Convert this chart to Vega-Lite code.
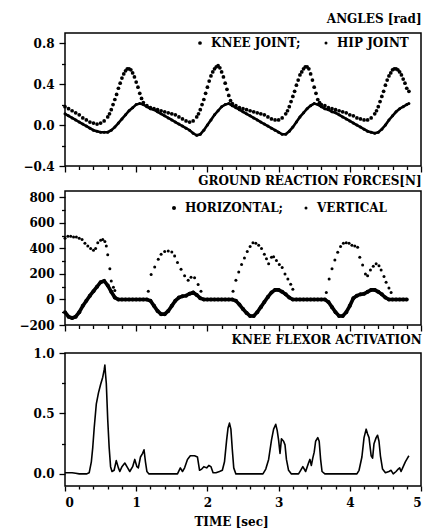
{
  "$schema": "https://vega.github.io/schema/vega-lite/v6.json",
  "padding": {"left": 18, "top": 12, "right": 5, "bottom": 0},
  "spacing": 0,
  "resolve": {"scale": {"size": "independent"}, "legend": {"size": "independent"}},
  "config": {
    "font": "DejaVu Serif",
    "view": {"stroke": "black", "strokeWidth": 1.5},
    "axis": {"grid": false, "domain": false, "tickColor": "black", "tickWidth": 1.3, "labelColor": "black", "labelFont": "DejaVu Serif", "labelFontWeight": "bold", "labelFontSize": 12, "titleFont": "DejaVu Serif", "titleFontWeight": "bold", "titleFontSize": 12, "titleColor": "black"},
    "title": {"font": "DejaVu Serif", "fontWeight": "bold", "fontSize": 12, "color": "black", "anchor": "end"},
    "legend": {"labelFont": "DejaVu Serif", "labelFontWeight": "bold", "labelFontSize": 12, "labelColor": "black"}
  },
  "datasets": {
    "angles": [
      {"t":0.00,"v":0.18,"s":"KNEE JOINT;"},{"t":0.05,"v":0.16,"s":"KNEE JOINT;"},{"t":0.10,"v":0.14,"s":"KNEE JOINT;"},{"t":0.15,"v":0.12,"s":"KNEE JOINT;"},{"t":0.20,"v":0.10,"s":"KNEE JOINT;"},{"t":0.25,"v":0.07,"s":"KNEE JOINT;"},{"t":0.30,"v":0.05,"s":"KNEE JOINT;"},{"t":0.35,"v":0.03,"s":"KNEE JOINT;"},{"t":0.40,"v":0.02,"s":"KNEE JOINT;"},{"t":0.45,"v":0.01,"s":"KNEE JOINT;"},{"t":0.50,"v":0.02,"s":"KNEE JOINT;"},{"t":0.55,"v":0.04,"s":"KNEE JOINT;"},{"t":0.60,"v":0.08,"s":"KNEE JOINT;"},{"t":0.625,"v":0.11,"s":"KNEE JOINT;"},{"t":0.65,"v":0.15,"s":"KNEE JOINT;"},{"t":0.675,"v":0.20,"s":"KNEE JOINT;"},{"t":0.70,"v":0.25,"s":"KNEE JOINT;"},{"t":0.725,"v":0.30,"s":"KNEE JOINT;"},{"t":0.75,"v":0.36,"s":"KNEE JOINT;"},{"t":0.775,"v":0.41,"s":"KNEE JOINT;"},{"t":0.80,"v":0.46,"s":"KNEE JOINT;"},{"t":0.825,"v":0.50,"s":"KNEE JOINT;"},{"t":0.85,"v":0.53,"s":"KNEE JOINT;"},{"t":0.875,"v":0.55,"s":"KNEE JOINT;"},{"t":0.90,"v":0.55,"s":"KNEE JOINT;"},{"t":0.925,"v":0.54,"s":"KNEE JOINT;"},{"t":0.95,"v":0.51,"s":"KNEE JOINT;"},{"t":0.975,"v":0.47,"s":"KNEE JOINT;"},{"t":1.00,"v":0.42,"s":"KNEE JOINT;"},{"t":1.025,"v":0.37,"s":"KNEE JOINT;"},{"t":1.05,"v":0.31,"s":"KNEE JOINT;"},{"t":1.075,"v":0.26,"s":"KNEE JOINT;"},{"t":1.10,"v":0.22,"s":"KNEE JOINT;"},{"t":1.15,"v":0.19,"s":"KNEE JOINT;"},{"t":1.20,"v":0.17,"s":"KNEE JOINT;"},{"t":1.25,"v":0.16,"s":"KNEE JOINT;"},{"t":1.30,"v":0.15,"s":"KNEE JOINT;"},{"t":1.35,"v":0.14,"s":"KNEE JOINT;"},{"t":1.40,"v":0.13,"s":"KNEE JOINT;"},{"t":1.45,"v":0.12,"s":"KNEE JOINT;"},{"t":1.50,"v":0.11,"s":"KNEE JOINT;"},{"t":1.55,"v":0.10,"s":"KNEE JOINT;"},{"t":1.60,"v":0.08,"s":"KNEE JOINT;"},{"t":1.65,"v":0.06,"s":"KNEE JOINT;"},{"t":1.70,"v":0.04,"s":"KNEE JOINT;"},{"t":1.75,"v":0.03,"s":"KNEE JOINT;"},{"t":1.80,"v":0.04,"s":"KNEE JOINT;"},{"t":1.85,"v":0.08,"s":"KNEE JOINT;"},{"t":1.875,"v":0.11,"s":"KNEE JOINT;"},{"t":1.90,"v":0.15,"s":"KNEE JOINT;"},{"t":1.925,"v":0.20,"s":"KNEE JOINT;"},{"t":1.95,"v":0.25,"s":"KNEE JOINT;"},{"t":1.975,"v":0.31,"s":"KNEE JOINT;"},{"t":2.00,"v":0.37,"s":"KNEE JOINT;"},{"t":2.025,"v":0.43,"s":"KNEE JOINT;"},{"t":2.05,"v":0.48,"s":"KNEE JOINT;"},{"t":2.075,"v":0.52,"s":"KNEE JOINT;"},{"t":2.10,"v":0.55,"s":"KNEE JOINT;"},{"t":2.125,"v":0.57,"s":"KNEE JOINT;"},{"t":2.15,"v":0.58,"s":"KNEE JOINT;"},{"t":2.175,"v":0.56,"s":"KNEE JOINT;"},{"t":2.20,"v":0.52,"s":"KNEE JOINT;"},{"t":2.225,"v":0.47,"s":"KNEE JOINT;"},{"t":2.25,"v":0.41,"s":"KNEE JOINT;"},{"t":2.275,"v":0.35,"s":"KNEE JOINT;"},{"t":2.30,"v":0.29,"s":"KNEE JOINT;"},{"t":2.325,"v":0.24,"s":"KNEE JOINT;"},{"t":2.35,"v":0.21,"s":"KNEE JOINT;"},{"t":2.40,"v":0.19,"s":"KNEE JOINT;"},{"t":2.45,"v":0.17,"s":"KNEE JOINT;"},{"t":2.50,"v":0.16,"s":"KNEE JOINT;"},{"t":2.55,"v":0.15,"s":"KNEE JOINT;"},{"t":2.60,"v":0.14,"s":"KNEE JOINT;"},{"t":2.65,"v":0.13,"s":"KNEE JOINT;"},{"t":2.70,"v":0.12,"s":"KNEE JOINT;"},{"t":2.75,"v":0.11,"s":"KNEE JOINT;"},{"t":2.80,"v":0.10,"s":"KNEE JOINT;"},{"t":2.85,"v":0.08,"s":"KNEE JOINT;"},{"t":2.90,"v":0.06,"s":"KNEE JOINT;"},{"t":2.95,"v":0.05,"s":"KNEE JOINT;"},{"t":3.00,"v":0.05,"s":"KNEE JOINT;"},{"t":3.05,"v":0.07,"s":"KNEE JOINT;"},{"t":3.10,"v":0.11,"s":"KNEE JOINT;"},{"t":3.125,"v":0.14,"s":"KNEE JOINT;"},{"t":3.15,"v":0.18,"s":"KNEE JOINT;"},{"t":3.175,"v":0.23,"s":"KNEE JOINT;"},{"t":3.20,"v":0.28,"s":"KNEE JOINT;"},{"t":3.225,"v":0.33,"s":"KNEE JOINT;"},{"t":3.25,"v":0.39,"s":"KNEE JOINT;"},{"t":3.275,"v":0.44,"s":"KNEE JOINT;"},{"t":3.30,"v":0.49,"s":"KNEE JOINT;"},{"t":3.325,"v":0.52,"s":"KNEE JOINT;"},{"t":3.35,"v":0.55,"s":"KNEE JOINT;"},{"t":3.375,"v":0.57,"s":"KNEE JOINT;"},{"t":3.40,"v":0.57,"s":"KNEE JOINT;"},{"t":3.425,"v":0.55,"s":"KNEE JOINT;"},{"t":3.45,"v":0.50,"s":"KNEE JOINT;"},{"t":3.475,"v":0.44,"s":"KNEE JOINT;"},{"t":3.50,"v":0.37,"s":"KNEE JOINT;"},{"t":3.525,"v":0.31,"s":"KNEE JOINT;"},{"t":3.55,"v":0.25,"s":"KNEE JOINT;"},{"t":3.575,"v":0.22,"s":"KNEE JOINT;"},{"t":3.60,"v":0.20,"s":"KNEE JOINT;"},{"t":3.65,"v":0.19,"s":"KNEE JOINT;"},{"t":3.70,"v":0.17,"s":"KNEE JOINT;"},{"t":3.75,"v":0.16,"s":"KNEE JOINT;"},{"t":3.80,"v":0.15,"s":"KNEE JOINT;"},{"t":3.85,"v":0.14,"s":"KNEE JOINT;"},{"t":3.90,"v":0.13,"s":"KNEE JOINT;"},{"t":3.95,"v":0.12,"s":"KNEE JOINT;"},{"t":4.00,"v":0.10,"s":"KNEE JOINT;"},{"t":4.05,"v":0.09,"s":"KNEE JOINT;"},{"t":4.10,"v":0.07,"s":"KNEE JOINT;"},{"t":4.15,"v":0.06,"s":"KNEE JOINT;"},{"t":4.20,"v":0.05,"s":"KNEE JOINT;"},{"t":4.25,"v":0.05,"s":"KNEE JOINT;"},{"t":4.30,"v":0.07,"s":"KNEE JOINT;"},{"t":4.35,"v":0.11,"s":"KNEE JOINT;"},{"t":4.375,"v":0.14,"s":"KNEE JOINT;"},{"t":4.40,"v":0.18,"s":"KNEE JOINT;"},{"t":4.425,"v":0.23,"s":"KNEE JOINT;"},{"t":4.45,"v":0.28,"s":"KNEE JOINT;"},{"t":4.475,"v":0.33,"s":"KNEE JOINT;"},{"t":4.50,"v":0.39,"s":"KNEE JOINT;"},{"t":4.525,"v":0.44,"s":"KNEE JOINT;"},{"t":4.55,"v":0.48,"s":"KNEE JOINT;"},{"t":4.575,"v":0.51,"s":"KNEE JOINT;"},{"t":4.60,"v":0.54,"s":"KNEE JOINT;"},{"t":4.625,"v":0.55,"s":"KNEE JOINT;"},{"t":4.65,"v":0.55,"s":"KNEE JOINT;"},{"t":4.675,"v":0.54,"s":"KNEE JOINT;"},{"t":4.70,"v":0.52,"s":"KNEE JOINT;"},{"t":4.725,"v":0.49,"s":"KNEE JOINT;"},{"t":4.75,"v":0.45,"s":"KNEE JOINT;"},{"t":4.775,"v":0.41,"s":"KNEE JOINT;"},{"t":4.80,"v":0.36,"s":"KNEE JOINT;"},{"t":4.83,"v":0.33,"s":"KNEE JOINT;"},
      {"t":0.00,"v":0.11,"s":"HIP JOINT"},{"t":0.05,"v":0.09,"s":"HIP JOINT"},{"t":0.10,"v":0.07,"s":"HIP JOINT"},{"t":0.15,"v":0.05,"s":"HIP JOINT"},{"t":0.20,"v":0.03,"s":"HIP JOINT"},{"t":0.25,"v":0.01,"s":"HIP JOINT"},{"t":0.30,"v":-0.01,"s":"HIP JOINT"},{"t":0.35,"v":-0.03,"s":"HIP JOINT"},{"t":0.40,"v":-0.05,"s":"HIP JOINT"},{"t":0.45,"v":-0.06,"s":"HIP JOINT"},{"t":0.50,"v":-0.07,"s":"HIP JOINT"},{"t":0.55,"v":-0.07,"s":"HIP JOINT"},{"t":0.60,"v":-0.07,"s":"HIP JOINT"},{"t":0.65,"v":-0.05,"s":"HIP JOINT"},{"t":0.70,"v":-0.02,"s":"HIP JOINT"},{"t":0.75,"v":0.02,"s":"HIP JOINT"},{"t":0.80,"v":0.06,"s":"HIP JOINT"},{"t":0.85,"v":0.10,"s":"HIP JOINT"},{"t":0.90,"v":0.14,"s":"HIP JOINT"},{"t":0.95,"v":0.17,"s":"HIP JOINT"},{"t":1.00,"v":0.20,"s":"HIP JOINT"},{"t":1.05,"v":0.21,"s":"HIP JOINT"},{"t":1.10,"v":0.20,"s":"HIP JOINT"},{"t":1.15,"v":0.18,"s":"HIP JOINT"},{"t":1.20,"v":0.16,"s":"HIP JOINT"},{"t":1.25,"v":0.15,"s":"HIP JOINT"},{"t":1.30,"v":0.13,"s":"HIP JOINT"},{"t":1.35,"v":0.11,"s":"HIP JOINT"},{"t":1.40,"v":0.09,"s":"HIP JOINT"},{"t":1.45,"v":0.07,"s":"HIP JOINT"},{"t":1.50,"v":0.05,"s":"HIP JOINT"},{"t":1.55,"v":0.03,"s":"HIP JOINT"},{"t":1.60,"v":0.01,"s":"HIP JOINT"},{"t":1.65,"v":-0.01,"s":"HIP JOINT"},{"t":1.70,"v":-0.03,"s":"HIP JOINT"},{"t":1.75,"v":-0.05,"s":"HIP JOINT"},{"t":1.80,"v":-0.08,"s":"HIP JOINT"},{"t":1.85,"v":-0.10,"s":"HIP JOINT"},{"t":1.90,"v":-0.09,"s":"HIP JOINT"},{"t":1.95,"v":-0.05,"s":"HIP JOINT"},{"t":2.00,"v":0.00,"s":"HIP JOINT"},{"t":2.05,"v":0.05,"s":"HIP JOINT"},{"t":2.10,"v":0.10,"s":"HIP JOINT"},{"t":2.15,"v":0.14,"s":"HIP JOINT"},{"t":2.20,"v":0.18,"s":"HIP JOINT"},{"t":2.25,"v":0.20,"s":"HIP JOINT"},{"t":2.30,"v":0.21,"s":"HIP JOINT"},{"t":2.35,"v":0.19,"s":"HIP JOINT"},{"t":2.40,"v":0.17,"s":"HIP JOINT"},{"t":2.45,"v":0.15,"s":"HIP JOINT"},{"t":2.50,"v":0.13,"s":"HIP JOINT"},{"t":2.55,"v":0.11,"s":"HIP JOINT"},{"t":2.60,"v":0.09,"s":"HIP JOINT"},{"t":2.65,"v":0.07,"s":"HIP JOINT"},{"t":2.70,"v":0.05,"s":"HIP JOINT"},{"t":2.75,"v":0.03,"s":"HIP JOINT"},{"t":2.80,"v":0.01,"s":"HIP JOINT"},{"t":2.85,"v":-0.01,"s":"HIP JOINT"},{"t":2.90,"v":-0.03,"s":"HIP JOINT"},{"t":2.95,"v":-0.05,"s":"HIP JOINT"},{"t":3.00,"v":-0.07,"s":"HIP JOINT"},{"t":3.05,"v":-0.09,"s":"HIP JOINT"},{"t":3.10,"v":-0.09,"s":"HIP JOINT"},{"t":3.15,"v":-0.06,"s":"HIP JOINT"},{"t":3.20,"v":-0.02,"s":"HIP JOINT"},{"t":3.25,"v":0.03,"s":"HIP JOINT"},{"t":3.30,"v":0.08,"s":"HIP JOINT"},{"t":3.35,"v":0.12,"s":"HIP JOINT"},{"t":3.40,"v":0.16,"s":"HIP JOINT"},{"t":3.45,"v":0.19,"s":"HIP JOINT"},{"t":3.50,"v":0.21,"s":"HIP JOINT"},{"t":3.55,"v":0.20,"s":"HIP JOINT"},{"t":3.60,"v":0.18,"s":"HIP JOINT"},{"t":3.65,"v":0.16,"s":"HIP JOINT"},{"t":3.70,"v":0.15,"s":"HIP JOINT"},{"t":3.75,"v":0.13,"s":"HIP JOINT"},{"t":3.80,"v":0.12,"s":"HIP JOINT"},{"t":3.85,"v":0.10,"s":"HIP JOINT"},{"t":3.90,"v":0.08,"s":"HIP JOINT"},{"t":3.95,"v":0.06,"s":"HIP JOINT"},{"t":4.00,"v":0.04,"s":"HIP JOINT"},{"t":4.05,"v":0.02,"s":"HIP JOINT"},{"t":4.10,"v":0.00,"s":"HIP JOINT"},{"t":4.15,"v":-0.02,"s":"HIP JOINT"},{"t":4.20,"v":-0.04,"s":"HIP JOINT"},{"t":4.25,"v":-0.06,"s":"HIP JOINT"},{"t":4.30,"v":-0.07,"s":"HIP JOINT"},{"t":4.35,"v":-0.08,"s":"HIP JOINT"},{"t":4.40,"v":-0.07,"s":"HIP JOINT"},{"t":4.45,"v":-0.04,"s":"HIP JOINT"},{"t":4.50,"v":0.00,"s":"HIP JOINT"},{"t":4.55,"v":0.05,"s":"HIP JOINT"},{"t":4.60,"v":0.09,"s":"HIP JOINT"},{"t":4.65,"v":0.13,"s":"HIP JOINT"},{"t":4.70,"v":0.16,"s":"HIP JOINT"},{"t":4.75,"v":0.18,"s":"HIP JOINT"},{"t":4.80,"v":0.20,"s":"HIP JOINT"},{"t":4.83,"v":0.21,"s":"HIP JOINT"}
    ],
    "forces": [
      {"t":0.00,"v":-100,"s":"HORIZONTAL;"},{"t":0.05,"v":-135,"s":"HORIZONTAL;"},{"t":0.10,"v":-145,"s":"HORIZONTAL;"},{"t":0.15,"v":-135,"s":"HORIZONTAL;"},{"t":0.20,"v":-100,"s":"HORIZONTAL;"},{"t":0.25,"v":-50,"s":"HORIZONTAL;"},{"t":0.30,"v":-10,"s":"HORIZONTAL;"},{"t":0.35,"v":30,"s":"HORIZONTAL;"},{"t":0.40,"v":65,"s":"HORIZONTAL;"},{"t":0.45,"v":100,"s":"HORIZONTAL;"},{"t":0.50,"v":135,"s":"HORIZONTAL;"},{"t":0.55,"v":145,"s":"HORIZONTAL;"},{"t":0.60,"v":110,"s":"HORIZONTAL;"},{"t":0.65,"v":60,"s":"HORIZONTAL;"},{"t":0.70,"v":15,"s":"HORIZONTAL;"},{"t":0.75,"v":0,"s":"HORIZONTAL;"},{"t":0.80,"v":0,"s":"HORIZONTAL;"},{"t":0.85,"v":0,"s":"HORIZONTAL;"},{"t":0.90,"v":0,"s":"HORIZONTAL;"},{"t":0.95,"v":0,"s":"HORIZONTAL;"},{"t":1.00,"v":0,"s":"HORIZONTAL;"},{"t":1.05,"v":0,"s":"HORIZONTAL;"},{"t":1.10,"v":0,"s":"HORIZONTAL;"},{"t":1.15,"v":0,"s":"HORIZONTAL;"},{"t":1.20,"v":-10,"s":"HORIZONTAL;"},{"t":1.25,"v":-50,"s":"HORIZONTAL;"},{"t":1.30,"v":-90,"s":"HORIZONTAL;"},{"t":1.35,"v":-115,"s":"HORIZONTAL;"},{"t":1.40,"v":-115,"s":"HORIZONTAL;"},{"t":1.45,"v":-90,"s":"HORIZONTAL;"},{"t":1.50,"v":-50,"s":"HORIZONTAL;"},{"t":1.55,"v":-10,"s":"HORIZONTAL;"},{"t":1.60,"v":15,"s":"HORIZONTAL;"},{"t":1.65,"v":25,"s":"HORIZONTAL;"},{"t":1.70,"v":30,"s":"HORIZONTAL;"},{"t":1.75,"v":45,"s":"HORIZONTAL;"},{"t":1.80,"v":55,"s":"HORIZONTAL;"},{"t":1.85,"v":35,"s":"HORIZONTAL;"},{"t":1.90,"v":10,"s":"HORIZONTAL;"},{"t":1.95,"v":0,"s":"HORIZONTAL;"},{"t":2.00,"v":0,"s":"HORIZONTAL;"},{"t":2.05,"v":0,"s":"HORIZONTAL;"},{"t":2.10,"v":0,"s":"HORIZONTAL;"},{"t":2.15,"v":0,"s":"HORIZONTAL;"},{"t":2.20,"v":0,"s":"HORIZONTAL;"},{"t":2.25,"v":0,"s":"HORIZONTAL;"},{"t":2.30,"v":0,"s":"HORIZONTAL;"},{"t":2.35,"v":0,"s":"HORIZONTAL;"},{"t":2.40,"v":-10,"s":"HORIZONTAL;"},{"t":2.45,"v":-40,"s":"HORIZONTAL;"},{"t":2.50,"v":-75,"s":"HORIZONTAL;"},{"t":2.55,"v":-105,"s":"HORIZONTAL;"},{"t":2.60,"v":-130,"s":"HORIZONTAL;"},{"t":2.65,"v":-130,"s":"HORIZONTAL;"},{"t":2.70,"v":-100,"s":"HORIZONTAL;"},{"t":2.75,"v":-60,"s":"HORIZONTAL;"},{"t":2.80,"v":-20,"s":"HORIZONTAL;"},{"t":2.85,"v":20,"s":"HORIZONTAL;"},{"t":2.90,"v":55,"s":"HORIZONTAL;"},{"t":2.95,"v":75,"s":"HORIZONTAL;"},{"t":3.00,"v":75,"s":"HORIZONTAL;"},{"t":3.05,"v":60,"s":"HORIZONTAL;"},{"t":3.10,"v":40,"s":"HORIZONTAL;"},{"t":3.15,"v":15,"s":"HORIZONTAL;"},{"t":3.20,"v":0,"s":"HORIZONTAL;"},{"t":3.25,"v":0,"s":"HORIZONTAL;"},{"t":3.30,"v":0,"s":"HORIZONTAL;"},{"t":3.35,"v":0,"s":"HORIZONTAL;"},{"t":3.40,"v":0,"s":"HORIZONTAL;"},{"t":3.45,"v":0,"s":"HORIZONTAL;"},{"t":3.50,"v":0,"s":"HORIZONTAL;"},{"t":3.55,"v":0,"s":"HORIZONTAL;"},{"t":3.60,"v":0,"s":"HORIZONTAL;"},{"t":3.65,"v":0,"s":"HORIZONTAL;"},{"t":3.70,"v":-20,"s":"HORIZONTAL;"},{"t":3.75,"v":-60,"s":"HORIZONTAL;"},{"t":3.80,"v":-100,"s":"HORIZONTAL;"},{"t":3.85,"v":-130,"s":"HORIZONTAL;"},{"t":3.90,"v":-130,"s":"HORIZONTAL;"},{"t":3.95,"v":-100,"s":"HORIZONTAL;"},{"t":4.00,"v":-50,"s":"HORIZONTAL;"},{"t":4.05,"v":10,"s":"HORIZONTAL;"},{"t":4.10,"v":30,"s":"HORIZONTAL;"},{"t":4.15,"v":40,"s":"HORIZONTAL;"},{"t":4.20,"v":45,"s":"HORIZONTAL;"},{"t":4.25,"v":60,"s":"HORIZONTAL;"},{"t":4.30,"v":75,"s":"HORIZONTAL;"},{"t":4.35,"v":75,"s":"HORIZONTAL;"},{"t":4.40,"v":60,"s":"HORIZONTAL;"},{"t":4.45,"v":40,"s":"HORIZONTAL;"},{"t":4.50,"v":15,"s":"HORIZONTAL;"},{"t":4.55,"v":0,"s":"HORIZONTAL;"},{"t":4.60,"v":0,"s":"HORIZONTAL;"},{"t":4.65,"v":0,"s":"HORIZONTAL;"},{"t":4.70,"v":0,"s":"HORIZONTAL;"},{"t":4.75,"v":0,"s":"HORIZONTAL;"},{"t":4.80,"v":0,"s":"HORIZONTAL;"},
      {"t":0.00,"v":480,"s":"VERTICAL"},{"t":0.04,"v":495,"s":"VERTICAL"},{"t":0.08,"v":495,"s":"VERTICAL"},{"t":0.12,"v":490,"s":"VERTICAL"},{"t":0.16,"v":490,"s":"VERTICAL"},{"t":0.20,"v":480,"s":"VERTICAL"},{"t":0.24,"v":470,"s":"VERTICAL"},{"t":0.28,"v":440,"s":"VERTICAL"},{"t":0.32,"v":420,"s":"VERTICAL"},{"t":0.36,"v":400,"s":"VERTICAL"},{"t":0.40,"v":385,"s":"VERTICAL"},{"t":0.43,"v":400,"s":"VERTICAL"},{"t":0.46,"v":445,"s":"VERTICAL"},{"t":0.50,"v":465,"s":"VERTICAL"},{"t":0.53,"v":470,"s":"VERTICAL"},{"t":0.56,"v":455,"s":"VERTICAL"},{"t":0.58,"v":420,"s":"VERTICAL"},{"t":0.60,"v":350,"s":"VERTICAL"},{"t":0.63,"v":240,"s":"VERTICAL"},{"t":0.65,"v":145,"s":"VERTICAL"},{"t":0.68,"v":95,"s":"VERTICAL"},{"t":0.70,"v":70,"s":"VERTICAL"},
      {"t":1.17,"v":65,"s":"VERTICAL"},{"t":1.21,"v":195,"s":"VERTICAL"},{"t":1.26,"v":255,"s":"VERTICAL"},{"t":1.31,"v":315,"s":"VERTICAL"},{"t":1.35,"v":355,"s":"VERTICAL"},{"t":1.40,"v":375,"s":"VERTICAL"},{"t":1.45,"v":380,"s":"VERTICAL"},{"t":1.50,"v":372,"s":"VERTICAL"},{"t":1.54,"v":340,"s":"VERTICAL"},{"t":1.58,"v":290,"s":"VERTICAL"},{"t":1.63,"v":236,"s":"VERTICAL"},{"t":1.68,"v":185,"s":"VERTICAL"},{"t":1.73,"v":150,"s":"VERTICAL"},{"t":1.77,"v":175,"s":"VERTICAL"},{"t":1.82,"v":170,"s":"VERTICAL"},{"t":1.87,"v":118,"s":"VERTICAL"},{"t":1.91,"v":65,"s":"VERTICAL"},
      {"t":2.36,"v":65,"s":"VERTICAL"},{"t":2.40,"v":150,"s":"VERTICAL"},{"t":2.44,"v":215,"s":"VERTICAL"},{"t":2.48,"v":275,"s":"VERTICAL"},{"t":2.52,"v":325,"s":"VERTICAL"},{"t":2.56,"v":375,"s":"VERTICAL"},{"t":2.60,"v":415,"s":"VERTICAL"},{"t":2.64,"v":445,"s":"VERTICAL"},{"t":2.68,"v":440,"s":"VERTICAL"},{"t":2.72,"v":425,"s":"VERTICAL"},{"t":2.76,"v":400,"s":"VERTICAL"},{"t":2.80,"v":355,"s":"VERTICAL"},{"t":2.83,"v":320,"s":"VERTICAL"},{"t":2.86,"v":280,"s":"VERTICAL"},{"t":2.90,"v":330,"s":"VERTICAL"},{"t":2.93,"v":335,"s":"VERTICAL"},{"t":2.97,"v":305,"s":"VERTICAL"},{"t":3.01,"v":275,"s":"VERTICAL"},{"t":3.05,"v":250,"s":"VERTICAL"},{"t":3.09,"v":200,"s":"VERTICAL"},{"t":3.13,"v":160,"s":"VERTICAL"},{"t":3.17,"v":120,"s":"VERTICAL"},{"t":3.20,"v":80,"s":"VERTICAL"},
      {"t":3.67,"v":55,"s":"VERTICAL"},{"t":3.71,"v":160,"s":"VERTICAL"},{"t":3.75,"v":240,"s":"VERTICAL"},{"t":3.79,"v":310,"s":"VERTICAL"},{"t":3.83,"v":370,"s":"VERTICAL"},{"t":3.87,"v":415,"s":"VERTICAL"},{"t":3.91,"v":440,"s":"VERTICAL"},{"t":3.95,"v":445,"s":"VERTICAL"},{"t":3.99,"v":440,"s":"VERTICAL"},{"t":4.03,"v":425,"s":"VERTICAL"},{"t":4.07,"v":420,"s":"VERTICAL"},{"t":4.11,"v":410,"s":"VERTICAL"},{"t":4.14,"v":330,"s":"VERTICAL"},{"t":4.18,"v":270,"s":"VERTICAL"},{"t":4.22,"v":200,"s":"VERTICAL"},{"t":4.25,"v":185,"s":"VERTICAL"},{"t":4.29,"v":230,"s":"VERTICAL"},{"t":4.33,"v":260,"s":"VERTICAL"},{"t":4.37,"v":280,"s":"VERTICAL"},{"t":4.41,"v":265,"s":"VERTICAL"},{"t":4.44,"v":230,"s":"VERTICAL"},{"t":4.48,"v":180,"s":"VERTICAL"},{"t":4.51,"v":135,"s":"VERTICAL"},{"t":4.55,"v":90,"s":"VERTICAL"},{"t":4.58,"v":55,"s":"VERTICAL"}
    ],
    "act": [
      {"t":0.00,"v":0.01},{"t":0.10,"v":0.01},{"t":0.15,"v":0.005},{"t":0.20,"v":0.0},{"t":0.30,"v":0.0},{"t":0.34,"v":0.01},{"t":0.37,"v":0.1},{"t":0.39,"v":0.22},{"t":0.41,"v":0.38},{"t":0.44,"v":0.58},{"t":0.47,"v":0.67},{"t":0.50,"v":0.74},{"t":0.53,"v":0.80},{"t":0.55,"v":0.86},{"t":0.56,"v":0.90},{"t":0.57,"v":0.82},{"t":0.58,"v":0.75},{"t":0.60,"v":0.45},{"t":0.62,"v":0.22},{"t":0.64,"v":0.06},{"t":0.66,"v":0.02},{"t":0.69,"v":0.03},{"t":0.72,"v":0.11},{"t":0.75,"v":0.05},{"t":0.77,"v":0.02},{"t":0.80,"v":0.06},{"t":0.84,"v":0.09},{"t":0.88,"v":0.05},{"t":0.91,"v":0.02},{"t":0.95,"v":0.06},{"t":0.98,"v":0.12},{"t":1.01,"v":0.06},{"t":1.03,"v":0.05},{"t":1.06,"v":0.14},{"t":1.09,"v":0.17},{"t":1.11,"v":0.2},{"t":1.13,"v":0.1},{"t":1.15,"v":0.02},{"t":1.18,"v":0.0},{"t":1.40,"v":0.0},{"t":1.58,"v":0.0},{"t":1.62,"v":0.05},{"t":1.65,"v":0.02},{"t":1.68,"v":0.05},{"t":1.72,"v":0.12},{"t":1.76,"v":0.15},{"t":1.82,"v":0.15},{"t":1.86,"v":0.14},{"t":1.89,"v":0.03},{"t":1.92,"v":0.04},{"t":1.95,"v":0.06},{"t":1.99,"v":0.05},{"t":2.02,"v":0.07},{"t":2.05,"v":0.06},{"t":2.08,"v":0.01},{"t":2.12,"v":0.01},{"t":2.17,"v":0.02},{"t":2.21,"v":0.03},{"t":2.24,"v":0.1},{"t":2.27,"v":0.28},{"t":2.29,"v":0.38},{"t":2.31,"v":0.42},{"t":2.33,"v":0.37},{"t":2.35,"v":0.2},{"t":2.37,"v":0.05},{"t":2.40,"v":0.0},{"t":2.60,"v":0.0},{"t":2.78,"v":0.0},{"t":2.82,"v":0.04},{"t":2.86,"v":0.12},{"t":2.90,"v":0.28},{"t":2.93,"v":0.37},{"t":2.96,"v":0.41},{"t":2.98,"v":0.36},{"t":3.00,"v":0.28},{"t":3.02,"v":0.17},{"t":3.04,"v":0.29},{"t":3.07,"v":0.27},{"t":3.09,"v":0.24},{"t":3.11,"v":0.12},{"t":3.14,"v":0.03},{"t":3.18,"v":0.0},{"t":3.28,"v":0.0},{"t":3.31,"v":0.03},{"t":3.34,"v":0.06},{"t":3.38,"v":0.02},{"t":3.42,"v":0.09},{"t":3.44,"v":0.12},{"t":3.46,"v":0.07},{"t":3.48,"v":0.13},{"t":3.50,"v":0.18},{"t":3.52,"v":0.27},{"t":3.55,"v":0.3},{"t":3.57,"v":0.27},{"t":3.59,"v":0.12},{"t":3.61,"v":0.02},{"t":3.65,"v":0.0},{"t":3.90,"v":0.0},{"t":4.10,"v":0.0},{"t":4.13,"v":0.03},{"t":4.17,"v":0.14},{"t":4.20,"v":0.3},{"t":4.23,"v":0.37},{"t":4.25,"v":0.33},{"t":4.27,"v":0.3},{"t":4.30,"v":0.15},{"t":4.32,"v":0.13},{"t":4.34,"v":0.25},{"t":4.37,"v":0.3},{"t":4.39,"v":0.32},{"t":4.41,"v":0.27},{"t":4.43,"v":0.15},{"t":4.46,"v":0.04},{"t":4.50,"v":0.01},{"t":4.55,"v":0.02},{"t":4.58,"v":0.03},{"t":4.61,"v":0.0},{"t":4.65,"v":0.02},{"t":4.68,"v":0.04},{"t":4.70,"v":0.05},{"t":4.72,"v":0.02},{"t":4.75,"v":0.06},{"t":4.78,"v":0.1},{"t":4.81,"v":0.13},{"t":4.83,"v":0.15}
    ]
  },
  "vconcat": [
    {
      "width": 356, "height": 133,
      "title": {"text": "ANGLES [rad]", "offset": 7},
      "data": {"name": "angles"},
      "layer": [
        {
          "transform": [{"filter": "datum.s == 'HIP JOINT'"}],
          "mark": {"type": "line", "color": "black", "strokeWidth": 2.6},
          "encoding": {
            "x": {"field": "t", "type": "quantitative", "axis": null},
            "y": {"field": "v", "type": "quantitative", "axis": null}
          }
        },
        {
          "mark": {"type": "point", "filled": true, "opacity": 1, "shape": "circle", "color": "black"},
          "encoding": {
            "x": {"field": "t", "type": "quantitative", "scale": {"domain": [0, 5], "nice": false, "zero": false},
                  "axis": {"orient": "bottom", "values": [0,1,2,3,4,5], "labels": false, "tickSize": 6, "title": null}},
            "y": {"field": "v", "type": "quantitative", "scale": {"domain": [-0.4, 0.9], "nice": false, "zero": false},
                  "axis": {"orient": "left", "values": [-0.4,0,0.4,0.8], "format": ".1f", "tickSize": 6, "labelPadding": 5, "title": null, "minExtent": 44, "maxExtent": 44}},
            "size": {"field": "s", "type": "nominal", "scale": {"domain": ["KNEE JOINT;", "HIP JOINT"], "range": [14, 9]},
                     "legend": {"title": null, "orient": "none", "legendX": 129, "legendY": 4, "direction": "horizontal", "padding": 0, "columnPadding": 19, "labelOffset": 5, "symbolFillColor": "black", "symbolStrokeWidth": 0, "symbolType": "circle"}}
          }
        },
        {
          "mark": {"type": "point", "opacity": 0},
          "encoding": {
            "x": {"field": "t", "type": "quantitative", "axis": {"orient": "bottom", "values": [0.2,0.4,0.6,0.8,1.2,1.4,1.6,1.8,2.2,2.4,2.6,2.8,3.2,3.4,3.6,3.8,4.2,4.4,4.6,4.8], "labels": false, "tickSize": 3.5, "title": null}},
            "y": {"field": "v", "type": "quantitative", "axis": {"orient": "left", "values": [-0.2,0.2,0.6], "labels": false, "tickSize": 3.5, "title": null, "maxExtent": 44}}
          }
        }
      ],
      "resolve": {"axis": {"x": "independent", "y": "independent"}}
    },
    {
      "width": 356, "height": 134,
      "title": {"text": "GROUND REACTION FORCES[N]", "offset": 3},
      "data": {"name": "forces"},
      "layer": [
        {
          "transform": [{"filter": "datum.s == 'HORIZONTAL;'"}],
          "mark": {"type": "line", "color": "black", "strokeWidth": 3.6},
          "encoding": {
            "x": {"field": "t", "type": "quantitative", "axis": null},
            "y": {"field": "v", "type": "quantitative", "axis": null}
          }
        },
        {
          "mark": {"type": "point", "filled": true, "opacity": 1, "shape": "circle", "color": "black"},
          "encoding": {
            "x": {"field": "t", "type": "quantitative", "scale": {"domain": [0, 5], "nice": false, "zero": false},
                  "axis": {"orient": "bottom", "values": [0,1,2,3,4,5], "labels": false, "tickSize": 6, "title": null}},
            "y": {"field": "v", "type": "quantitative", "scale": {"domain": [-200, 850], "nice": false, "zero": false},
                  "axis": {"orient": "left", "values": [-200,0,200,400,600,800], "format": "d", "tickSize": 6, "labelPadding": 5, "title": null, "minExtent": 44, "maxExtent": 44}},
            "size": {"field": "s", "type": "nominal", "scale": {"domain": ["HORIZONTAL;", "VERTICAL"], "range": [16, 9]},
                     "legend": {"title": null, "orient": "none", "legendX": 103, "legendY": 11, "direction": "horizontal", "padding": 0, "columnPadding": 16, "labelOffset": 5, "symbolFillColor": "black", "symbolStrokeWidth": 0, "symbolType": "circle"}}
          }
        },
        {
          "mark": {"type": "point", "opacity": 0},
          "encoding": {
            "x": {"field": "t", "type": "quantitative", "axis": {"orient": "bottom", "values": [0.2,0.4,0.6,0.8,1.2,1.4,1.6,1.8,2.2,2.4,2.6,2.8,3.2,3.4,3.6,3.8,4.2,4.4,4.6,4.8], "labels": false, "tickSize": 3.5, "title": null}},
            "y": {"field": "v", "type": "quantitative", "axis": {"orient": "left", "values": [-100,100,300,500,700], "labels": false, "tickSize": 3.5, "title": null, "maxExtent": 44}}
          }
        }
      ],
      "resolve": {"axis": {"x": "independent", "y": "independent"}}
    },
    {
      "width": 356, "height": 133,
      "title": {"text": "KNEE FLEXOR ACTIVATION", "offset": 0},
      "data": {"name": "act"},
      "layer": [
        {
          "mark": {"type": "line", "color": "black", "strokeWidth": 1.6, "strokeJoin": "round"},
          "encoding": {
            "x": {"field": "t", "type": "quantitative", "scale": {"domain": [0, 5], "nice": false, "zero": false},
                  "axis": {"orient": "bottom", "values": [0,1,2,3,4,5], "format": "d", "tickSize": 5, "labelPadding": 6, "title": "TIME [sec]", "titlePadding": 8, "titleX": 166}},
            "y": {"field": "v", "type": "quantitative", "scale": {"domain": [-0.1, 1.0], "nice": false, "zero": false},
                  "axis": {"orient": "left", "values": [0,0.5,1], "format": ".1f", "tickSize": 6, "labelPadding": 5, "title": null, "minExtent": 44, "maxExtent": 44}}
          }
        },
        {
          "mark": {"type": "point", "opacity": 0},
          "encoding": {
            "x": {"field": "t", "type": "quantitative", "axis": {"orient": "bottom", "values": [0.2,0.4,0.6,0.8,1.2,1.4,1.6,1.8,2.2,2.4,2.6,2.8,3.2,3.4,3.6,3.8,4.2,4.4,4.6,4.8], "labels": false, "tickSize": 3, "title": null}},
            "y": {"field": "v", "type": "quantitative", "axis": {"orient": "left", "values": [0.25,0.75], "labels": false, "tickSize": 3.5, "title": null, "maxExtent": 44}}
          }
        }
      ],
      "resolve": {"axis": {"x": "independent", "y": "independent"}}
    }
  ]
}
